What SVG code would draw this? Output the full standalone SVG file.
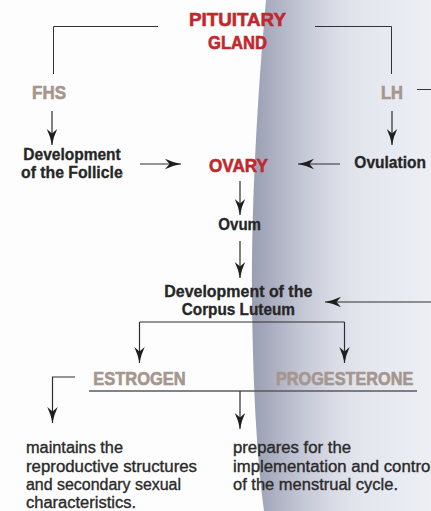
<svg xmlns="http://www.w3.org/2000/svg" width="431" height="511" viewBox="0 0 431 511">
<defs>
<linearGradient id="shade" gradientUnits="userSpaceOnUse" x1="250" y1="0" x2="431" y2="0">
<stop offset="0" stop-color="#989db0"/>
<stop offset="0.06" stop-color="#a1a5b8"/>
<stop offset="0.28" stop-color="#c3c6d4"/>
<stop offset="0.45" stop-color="#d8dbe5"/>
<stop offset="0.62" stop-color="#e4e6ee"/>
<stop offset="1" stop-color="#edeff5"/>
</linearGradient>
<marker id="ah" viewBox="-17 -6 18 12" markerWidth="18" markerHeight="12" refX="0" refY="0" orient="auto" markerUnits="userSpaceOnUse">
<path d="M0,0 Q-8,-1.4 -16,-5.2 L-11.5,0 L-16,5.2 Q-8,1.4 0,0 Z" fill="#1e1e1e"/>
</marker>
</defs>
<style>
.c{fill:none;stroke:#2e2e2e;stroke-width:1.2}
.b{fill:none;stroke:#333;stroke-width:1}
.a{marker-end:url(#ah)}
.red{font-family:"Liberation Sans",Arial,sans-serif;font-weight:bold;fill:#c0282d;stroke:#c0282d;stroke-width:0.6;font-size:19px}
.tp{font-family:"Liberation Sans",Arial,sans-serif;font-weight:bold;fill:#a5968e;stroke:#a5968e;stroke-width:0.6;font-size:18px}
.bd{font-family:"Liberation Sans",Arial,sans-serif;font-weight:bold;fill:#262626;stroke:#262626;stroke-width:0.3;font-size:16px}
.rg{font-family:"Liberation Sans",Arial,sans-serif;fill:#2a2a2a;font-size:16px;stroke:#2a2a2a;stroke-width:0.35}
</style>
<rect width="431" height="511" fill="#fdfdfd"/>
<path d="M266,0 C258,90 251,200 252,300 C253,390 257,460 264,511 L431,511 L431,0 Z" fill="url(#shade)"/>

<g id="connectors">
<polyline class="b" points="158,26.5 53.5,26.5 53.5,74"/>
<polyline class="b" points="315,26.5 391.5,26.5 391.5,74"/>
<line class="b" x1="417" y1="89.5" x2="431" y2="89.5"/>
<line class="c a" x1="52" y1="111" x2="52" y2="145"/>
<line class="c a" x1="392" y1="111" x2="392" y2="145"/>
<line class="c a" x1="140" y1="164" x2="181" y2="164"/>
<line class="c a" x1="340" y1="164" x2="298" y2="164"/>
<line class="c a" x1="240" y1="181" x2="240" y2="215"/>
<line class="c a" x1="240" y1="241" x2="240" y2="278"/>
<line class="c a" x1="431" y1="302" x2="325" y2="302"/>
<line class="c" x1="139.5" y1="322" x2="344.5" y2="322"/>
<line class="c a" x1="139.5" y1="322" x2="139.5" y2="363"/>
<line class="c a" x1="344.5" y1="322" x2="344.5" y2="363"/>
<polyline class="c a" points="75,377 52.5,377 52.5,423"/>
<line fill="none" stroke="#5a5a5a" stroke-width="1.5" x1="89" y1="391" x2="417" y2="391"/>
<line class="c a" x1="240" y1="391" x2="240" y2="429"/>
</g>

<g id="pituitary">
<text class="red" x="189" y="26" textLength="97" lengthAdjust="spacingAndGlyphs">PITUITARY</text>
<text class="red" x="208" y="48.5" textLength="59" lengthAdjust="spacingAndGlyphs">GLAND</text>
</g>
<g id="fhs"><text class="tp" x="32" y="98.5" textLength="34" lengthAdjust="spacingAndGlyphs">FHS</text></g>
<g id="lh"><text class="tp" x="381" y="98.5" textLength="22" lengthAdjust="spacingAndGlyphs">LH</text></g>
<g id="follicle">
<text class="bd" x="23.3" y="160" textLength="97.4" lengthAdjust="spacingAndGlyphs">Development</text>
<text class="bd" x="21" y="178.3" textLength="101.7" lengthAdjust="spacingAndGlyphs">of the Follicle</text>
</g>
<g id="ovary"><text class="red" x="209" y="172" textLength="59" lengthAdjust="spacingAndGlyphs">OVARY</text></g>
<g id="ovulation"><text class="bd" x="354.3" y="168.3" textLength="71.7" lengthAdjust="spacingAndGlyphs">Ovulation</text></g>
<g id="ovum"><text class="bd" x="218.3" y="230" textLength="42.7" lengthAdjust="spacingAndGlyphs">Ovum</text></g>
<g id="corpus">
<text class="bd" x="164.3" y="296.7" textLength="148" lengthAdjust="spacingAndGlyphs">Development of the</text>
<text class="bd" x="181.7" y="315" textLength="113.3" lengthAdjust="spacingAndGlyphs">Corpus Luteum</text>
</g>
<g id="estrogen"><text class="tp" x="93.3" y="385" textLength="92.4" lengthAdjust="spacingAndGlyphs">ESTROGEN</text></g>
<g id="progesterone"><text class="tp" x="276" y="385" textLength="137.3" lengthAdjust="spacingAndGlyphs">PROGESTERONE</text></g>
<g id="estrogen-effect">
<text class="rg" x="26" y="453.3" textLength="97" lengthAdjust="spacingAndGlyphs">maintains the</text>
<text class="rg" x="26" y="471.7" textLength="171" lengthAdjust="spacingAndGlyphs">reproductive structures</text>
<text class="rg" x="26" y="490" textLength="155" lengthAdjust="spacingAndGlyphs">and secondary sexual</text>
<text class="rg" x="26" y="508.3" textLength="110" lengthAdjust="spacingAndGlyphs">characteristics.</text>
</g>
<g id="progesterone-effect">
<text class="rg" x="233" y="453.3" textLength="118" lengthAdjust="spacingAndGlyphs">prepares for the</text>
<text class="rg" x="233" y="471.7" textLength="201" lengthAdjust="spacingAndGlyphs">implementation and control</text>
<text class="rg" x="233" y="490" textLength="165" lengthAdjust="spacingAndGlyphs">of the menstrual cycle.</text>
</g>
</svg>
